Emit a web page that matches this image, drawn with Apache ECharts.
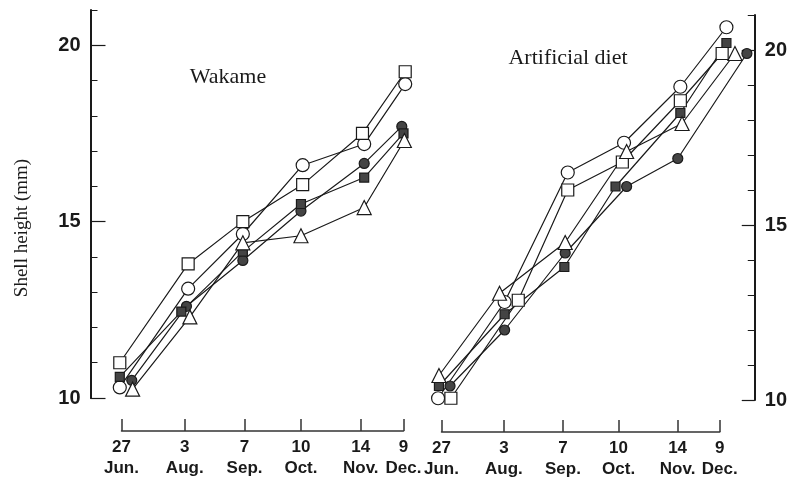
<!DOCTYPE html>
<html>
<head>
<meta charset="utf-8">
<title>Shell height</title>
<script src="https://cdn.jsdelivr.net/npm/echarts@6/dist/echarts.min.js"></script>
<style>
    html, body { margin: 0; padding: 0; background: #fff; }
    #chart { width: 790px; height: 481px; }
</style>
</head>
<body>
<div id="chart"></div>
<script>
// sampling dates, as days after 27 Jun.
var sampleDays = [0, 37, 72, 105, 140, 165];
var dayLabels = ['27', '3', '7', '10', '14', '9'];
var monthLabels = ['Jun.', 'Aug.', 'Sep.', 'Oct.', 'Nov.', 'Dec.'];
var yLabelValues = [10, 15, 20];

// Wakame: shell height (mm) and the day each point sits at
var wkOpenCircle = [10.3, 13.1, 14.65, 16.6, 17.2, 18.9];
var wkOpenCircleDays = [-1, 39, 71, 106, 142, 166];
var wkOpenSquare = [11.0, 13.8, 15.0, 16.05, 17.5, 19.25];
var wkOpenSquareDays = [-1, 39, 71, 106, 141, 166];
var wkFilledCircle = [10.5, 12.6, 13.9, 15.3, 16.65, 17.7];
var wkFilledCircleDays = [6, 38, 71, 105, 142, 164];
var wkFilledSquare = [10.6, 12.45, 14.15, 15.5, 16.25, 17.5];
var wkFilledSquareDays = [-1, 35, 71, 105, 142, 165];
var wkTriangle = [10.25, 12.3, 14.4, 14.6, 15.4, 17.3];
var wkTriangleDays = [6.5, 40, 71, 105, 142, 165.5];

// Artificial diet
var adOpenCircle = [10.05, 12.8, 16.5, 17.35, 18.95, 20.65];
var adOpenCircleDays = [-2, 37, 74, 107, 140, 167];
var adOpenSquare = [10.05, 12.85, 16.0, 16.8, 18.55, 19.9];
var adOpenSquareDays = [5.5, 45, 74, 106, 140, 164.5];
var adFilledCircle = [10.4, 12.0, 14.2, 16.1, 16.9, 19.9];
var adFilledCircleDays = [5, 37, 72.5, 108.5, 138.5, 179];
var adFilledSquare = [10.4, 12.45, 13.8, 16.1, 18.2, 20.2];
var adFilledSquareDays = [-1.5, 37, 72, 102, 140, 167];
var adTriangle = [10.7, 13.05, 14.5, 17.1, 17.9, 19.9];
var adTriangleDays = [-1.5, 34, 72.5, 108.5, 141, 172];

(function () {
    var ink = '#1a1a1a',
        sans = "'Liberation Sans', Arial, sans-serif",
        serif = "'Liberation Serif', 'DejaVu Serif', serif";

    // panel boxes (where 27 Jun .. 9 Dec and 10 .. 21 mm fall)
    var panels = [
        {left: 121.5, width: 282, top: 10, height: 388, xOffset: 33, ySide: 'left', yOffset: 31, major: 15},
        {left: 441.5, width: 281.5, top: 15, height: 385, xOffset: 32, ySide: 'right', yOffset: 35, major: 13}
    ];
    // the data grids are wider so lines reaching past 9 Dec are not cut off
    var padMin = -12, padMax = 185, xMax = 165;

    var grids = [], xAxes = [], yAxes = [];

    panels.forEach(function (p, i) {
        grids.push({left: p.left, width: p.width, top: p.top, height: p.height});
        xAxes.push({
            gridIndex: i,
            type: 'value',
            min: 0,
            max: xMax,
            offset: p.xOffset,
            splitLine: {show: false},
            axisLine: {show: true, onZero: false, lineStyle: {color: '#333', width: 1.5}},
            axisTick: {show: true, inside: true, length: 12, customValues: sampleDays,
                lineStyle: {color: '#333', width: 1.5}},
            axisLabel: {
                customValues: sampleDays,
                margin: 6,
                formatter: function (v) {
                    var k = sampleDays.indexOf(v);
                    return '{d|' + dayLabels[k] + '}\n{m|' + monthLabels[k] + '}';
                },
                rich: {
                    d: {fontFamily: sans, fontSize: 17, fontWeight: 'bold', color: ink, lineHeight: 20},
                    m: {fontFamily: sans, fontSize: 17, fontWeight: 'bold', color: ink, lineHeight: 22}
                }
            }
        });
        // main axis: line, 1 mm ticks and labels
        yAxes.push({
            gridIndex: i,
            type: 'value',
            min: 10,
            max: 21,
            interval: 1,
            position: p.ySide,
            offset: p.yOffset,
            splitLine: {show: false},
            axisLine: {show: true, onZero: false, lineStyle: {color: ink, width: 2}},
            axisTick: {show: true, inside: true, length: 7, lineStyle: {color: ink, width: 1}},
            axisLabel: {customValues: yLabelValues, margin: 10, fontFamily: sans, fontSize: 20,
                fontWeight: 'bold', color: ink}
        });
        // same line again, only for the long 5 mm ticks
        yAxes.push({
            gridIndex: i,
            type: 'value',
            min: 10,
            max: 21,
            position: p.ySide,
            offset: p.yOffset,
            splitLine: {show: false},
            axisLine: {show: false, onZero: false},
            axisTick: {show: true, inside: true, length: p.major, customValues: yLabelValues,
                lineStyle: {color: ink, width: 1.2}},
            axisLabel: {show: false}
        });
    });

    panels.forEach(function (p, i) {
        var s = p.width / xMax;
        grids.push({left: p.left + padMin * s, width: (padMax - padMin) * s, top: p.top, height: p.height});
        xAxes.push({gridIndex: 2 + i, type: 'value', min: padMin, max: padMax, show: false});
        yAxes.push({gridIndex: 2 + i, type: 'value', min: 10, max: 21, show: false});
    });

    function line(name, panel, days, values, symbol, size, filled) {
        var data = [];
        for (var i = 0; i < values.length; i++) {
            data.push([days[i], values[i]]);
        }
        return {
            name: name,
            type: 'line',
            xAxisIndex: 2 + panel,
            yAxisIndex: 4 + panel,
            data: data,
            symbol: symbol,
            symbolSize: size,
            showAllSymbol: true,
            lineStyle: {color: ink, width: 1.2},
            itemStyle: {color: filled ? '#444' : '#fff', borderColor: ink, borderWidth: 1.2},
            emphasis: {disabled: true}
        };
    }

    var option = {
        animation: false,
        backgroundColor: '#fff',
        grid: grids,
        xAxis: xAxes,
        yAxis: yAxes,
        graphic: [
            {type: 'text', x: 22, y: 228, rotation: Math.PI / 2, style: {text: 'Shell height (mm)',
                font: '19px ' + serif, fill: ink, textAlign: 'center', textVerticalAlign: 'middle'}},
            {type: 'text', x: 228, y: 77, style: {text: 'Wakame', font: '22px ' + serif,
                fill: ink, textAlign: 'center', textVerticalAlign: 'middle'}},
            {type: 'text', x: 568, y: 58, style: {text: 'Artificial diet', font: '22px ' + serif,
                fill: ink, textAlign: 'center', textVerticalAlign: 'middle'}}
        ],
        series: [
            line('wk-open-circle', 0, wkOpenCircleDays, wkOpenCircle, 'circle', 13, false),
            line('wk-open-square', 0, wkOpenSquareDays, wkOpenSquare, 'rect', 12, false),
            line('wk-filled-circle', 0, wkFilledCircleDays, wkFilledCircle, 'circle', 10, true),
            line('wk-filled-square', 0, wkFilledSquareDays, wkFilledSquare, 'rect', 9, true),
            line('wk-triangle', 0, wkTriangleDays, wkTriangle, 'triangle', 14, false),
            line('ad-open-circle', 1, adOpenCircleDays, adOpenCircle, 'circle', 13, false),
            line('ad-open-square', 1, adOpenSquareDays, adOpenSquare, 'rect', 12, false),
            line('ad-filled-circle', 1, adFilledCircleDays, adFilledCircle, 'circle', 10, true),
            line('ad-filled-square', 1, adFilledSquareDays, adFilledSquare, 'rect', 9, true),
            line('ad-triangle', 1, adTriangleDays, adTriangle, 'triangle', 14, false)
        ]
    };

    var chart = echarts.init(document.getElementById('chart'), null, {renderer: 'canvas'});
    chart.setOption(option);
})();
</script>
</body>
</html>
